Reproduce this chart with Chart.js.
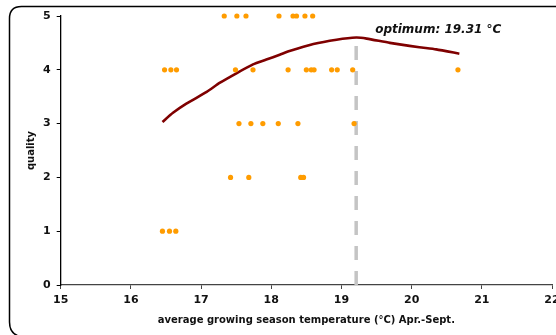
<!DOCTYPE html>
<html>
<head>
<meta charset="utf-8">
<script src="https://cdn.jsdelivr.net/npm/chart.js@4.4.1/dist/chart.umd.min.js"></script>
<style>
html,body{margin:0;padding:0;background:#fff;overflow:hidden;}
canvas{display:block;}
</style>
</head>
<body>
<canvas id="c" width="556" height="335"></canvas>
<script>
// ---- data ----
const temp5 = [17.33, 17.51, 17.64, 18.11, 18.31, 18.36, 18.48, 18.59];
const temp4 = [16.48, 16.57, 16.65, 17.49, 17.74, 18.24, 18.50, 18.57, 18.61, 18.86, 18.94, 19.16, 20.66];
const temp3 = [17.54, 17.71, 17.88, 18.10, 18.38, 19.18];
const temp2 = [17.42, 17.68, 18.42, 18.46];
const temp1 = [16.45, 16.55, 16.64];
const qualityLevels = [5, 4, 3, 2, 1];

const curveTemp    = [16.45, 16.60, 16.79, 17.08, 17.27, 17.51, 17.74, 17.93, 18.12, 18.26, 18.60, 18.93, 19.21, 19.36, 19.69, 20.11, 20.35, 20.68];
const curveQuality = [3.03, 3.20, 3.37, 3.59, 3.76, 3.94, 4.10, 4.19, 4.28, 4.35, 4.48, 4.56, 4.60, 4.58, 4.50, 4.42, 4.38, 4.30];

const optimumLineTemp = 19.21;
const optimumLineTop = 4.60;
const optimumLabel = "optimum: 19.31 °C";

const xTicks = [15, 16, 17, 18, 19, 20, 21, 22];
const yTicks = [0, 1, 2, 3, 4, 5];
const xTitle = "average growing season temperature (°C) Apr.-Sept.";
const yTitle = "quality";

// ---- build datasets ----
const tempGroups = [temp5, temp4, temp3, temp2, temp1];
const dots = [];
tempGroups.forEach((arr, i) => arr.forEach(t => dots.push({x: t, y: qualityLevels[i]})));
const curve = curveTemp.map((t, i) => ({x: t, y: curveQuality[i]}));
const optLine = [{x: optimumLineTemp, y: 0}, {x: optimumLineTemp, y: optimumLineTop}];

const FONT = "'DejaVu Sans', Verdana, sans-serif";

const framePlugin = {
  id: 'frame',
  beforeDraw(chart) {
    const ctx = chart.ctx;
    ctx.save();
    ctx.fillStyle = '#fff';
    ctx.fillRect(0, 0, chart.width, chart.height);
    ctx.strokeStyle = '#000';
    ctx.lineWidth = 1.5;
    const x = 9.5, y = 6.5, r = 12;
    ctx.beginPath();
    ctx.moveTo(chart.width + 5, y);
    ctx.lineTo(x + r, y);
    ctx.quadraticCurveTo(x, y, x, y + r);
    ctx.lineTo(x, 322);
    ctx.quadraticCurveTo(x, 333, x + 9, 336);
    ctx.stroke();
    ctx.restore();
  },
  afterDatasetsDraw(chart) {
    const ctx = chart.ctx;
    const xs = chart.scales.x, ys = chart.scales.y;
    ctx.save();
    ctx.font = "italic bold 12px " + FONT;
    ctx.fillStyle = '#111';
    ctx.textBaseline = 'middle';
    ctx.textAlign = 'left';
    ctx.fillText(optimumLabel, xs.getPixelForValue(optimumLineTemp) + 19, ys.getPixelForValue(optimumLineTop) - 8);
    ctx.restore();
  }
};

new Chart(document.getElementById('c'), {
  type: 'scatter',
  data: {
    datasets: [
      {
        data: dots,
        backgroundColor: '#ff9c00',
        borderColor: '#ff9c00',
        pointRadius: 2.6,
        pointBorderWidth: 0,
        showLine: false,
        clip: false,
        order: 1
      },
      {
        data: curve,
        showLine: true,
        borderColor: '#7f0000',
        borderWidth: 2.6,
        pointRadius: 0,
        tension: 0.2,
        fill: false,
        order: 2
      },
      {
        data: optLine,
        showLine: true,
        borderColor: '#c4c4c4',
        borderWidth: 3.5,
        borderDash: [14, 11],
        pointRadius: 0,
        fill: false,
        order: 3
      }
    ]
  },
  options: {
    responsive: false,
    animation: false,
    events: [],
    layout: {padding: {left: 0, right: 3.7, top: 16, bottom: 0}},
    plugins: {legend: {display: false}, tooltip: {enabled: false}},
    scales: {
      x: {
        type: 'linear',
        min: 15, max: 22,
        afterBuildTicks: s => { s.ticks = xTicks.map(v => ({value: v})); },
        afterFit: s => { s.height = 50; s.paddingLeft = 0; s.paddingRight = 0; },
        border: {color: '#444', width: 1.3},
        grid: {drawOnChartArea: false, drawTicks: true, tickLength: 4, color: '#444', lineWidth: 1},
        ticks: {color: '#111', padding: 5, maxRotation: 0, autoSkip: false, font: {family: FONT, size: 11, weight: 'bold'}},
        title: {display: true, text: xTitle, color: '#111', padding: {top: 0, bottom: 9}, font: {family: FONT, size: 10, weight: 'bold'}}
      },
      y: {
        type: 'linear',
        min: 0, max: 5,
        afterBuildTicks: s => { s.ticks = yTicks.map(v => ({value: v})); },
        afterFit: s => { s.width = 60.7; s.paddingTop = 0; s.paddingBottom = 0; },
        border: {color: '#000', width: 1.3},
        grid: {drawOnChartArea: false, drawTicks: true, tickLength: 4, color: '#000', lineWidth: 1},
        ticks: {color: '#111', padding: 6, autoSkip: false, font: {family: FONT, size: 11, weight: 'bold'}},
        title: {display: true, text: yTitle, color: '#111', padding: {top: 25, bottom: 0}, font: {family: FONT, size: 10, weight: 'bold'}}
      }
    }
  },
  plugins: [framePlugin]
});
</script>
</body>
</html>
